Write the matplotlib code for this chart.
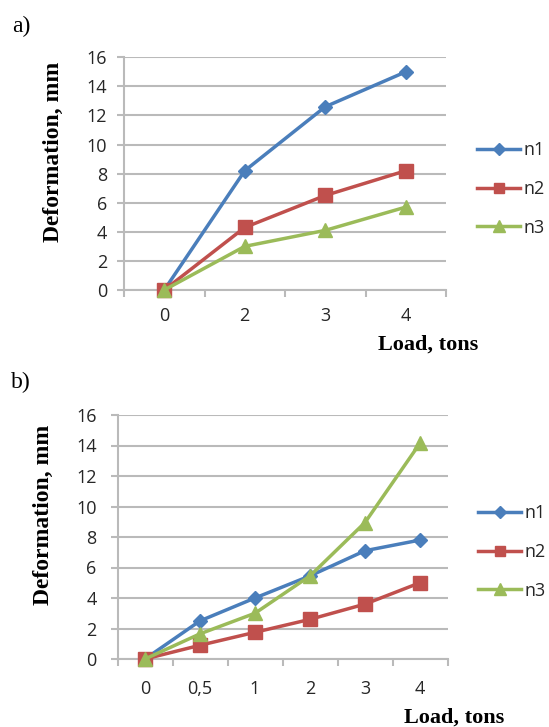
import matplotlib
matplotlib.use('Agg')
import matplotlib.pyplot as plt
import numpy as np
from matplotlib.ticker import FixedLocator, NullFormatter

# ---------------- data ----------------
loads_a = ['0', '2', '3', '4']
n1_a = [0, 8.2, 12.6, 15.0]
n2_a = [0, 4.3, 6.5, 8.2]
n3_a = [0, 3.0, 4.1, 5.7]

loads_b = ['0', '0,5', '1', '2', '3', '4']
n1_b = [0, 2.5, 4.0, 5.45, 7.1, 7.8]
n2_b = [0, 0.9, 1.75, 2.6, 3.6, 5.0]
n3_b = [0, 1.65, 3.0, 5.45, 8.95, 14.15]

series_names = ['n1', 'n2', 'n3']
y_ticks = list(range(0, 17, 2))

# ---------------- style ----------------
colors = ['#4A7EBB', '#C0504D', '#9BBB59']
markers = ['D', 's', '^']
msizes = [7.5, 9.5, 10]
grid_col = '#BABABA'
tick_font = 'Open Sans'
serif = 'Liberation Serif'
W, H = 549, 727

fig = plt.figure(figsize=(W / 100, H / 100), dpi=100)


def px_axes(l, t, r, b):
    return fig.add_axes([l / W, 1 - b / H, (r - l) / W, (b - t) / H])


def draw(ax, cats, data, ypad, xpad, leg_x, leg_y):
    for vals, name, c, m, ms in zip(data, series_names, colors, markers, msizes):
        ax.plot(cats, vals, color=c, lw=2.5, marker=m, ms=ms,
                markeredgecolor=c, label=name, clip_on=False, zorder=3)
    n = len(cats)
    ax.set_xlim(-0.5, n - 0.5)
    ax.set_ylim(0, 16)
    ax.set_yticks(y_ticks)
    ax.yaxis.grid(True, color=grid_col, lw=1.5)
    ax.set_axisbelow(True)
    for s in ['top', 'right']:
        ax.spines[s].set_visible(False)
    for s in ['left', 'bottom']:
        ax.spines[s].set_color(grid_col)
        ax.spines[s].set_linewidth(1.5)
    ax.xaxis.set_minor_locator(FixedLocator(np.arange(n + 1) - 0.5))
    ax.xaxis.set_minor_formatter(NullFormatter())
    ax.tick_params(axis='x', which='major', length=0, pad=xpad)
    ax.tick_params(axis='x', which='minor', length=5, width=1.5, color=grid_col)
    ax.tick_params(axis='y', length=5, width=1.5, color=grid_col, pad=ypad)
    for lab in ax.get_xticklabels() + ax.get_yticklabels():
        lab.set_fontfamily(tick_font)
        lab.set_fontsize(13)
        lab.set_color('#262626')
    leg = ax.legend(loc='center left', bbox_to_anchor=(leg_x / W, 1 - leg_y / H),
                    bbox_transform=fig.transFigure, frameon=False,
                    borderpad=0, borderaxespad=0, handlelength=2.4,
                    handletextpad=0.15, labelspacing=1.15, markerscale=0.8,
                    prop={'family': tick_font, 'size': 13})
    for t in leg.get_texts():
        t.set_color('#262626')


ax_a = px_axes(124, 57.3, 446, 290)
draw(ax_a, loads_a, [n1_a, n2_a, n3_a], ypad=7, xpad=12, leg_x=477, leg_y=189)

ax_b = px_axes(117.5, 415, 447.5, 659)
draw(ax_b, loads_b, [n1_b, n2_b, n3_b], ypad=10, xpad=15, leg_x=478, leg_y=552)

# labels
fig.text(12 / W, 1 - 26 / H, 'a)', family=serif, fontsize=17, ha='left', va='center')
fig.text(11 / W, 1 - 382 / H, 'b)', family=serif, fontsize=17, ha='left', va='center')
fig.text(53 / W, 1 - 152 / H, 'Deformation, mm', family=serif, weight='bold',
         fontsize=17, rotation=90, ha='center', va='center')
fig.text(43 / W, 1 - 515 / H, 'Deformation, mm', family=serif, weight='bold',
         fontsize=17, rotation=90, ha='center', va='center')
fig.text(428 / W, 1 - 345 / H, 'Load, tons', family=serif, weight='bold',
         fontsize=16, ha='center', va='center')
fig.text(454 / W, 1 - 718 / H, 'Load, tons', family=serif, weight='bold',
         fontsize=16, ha='center', va='center')

fig.savefig('out.png', dpi=100)
